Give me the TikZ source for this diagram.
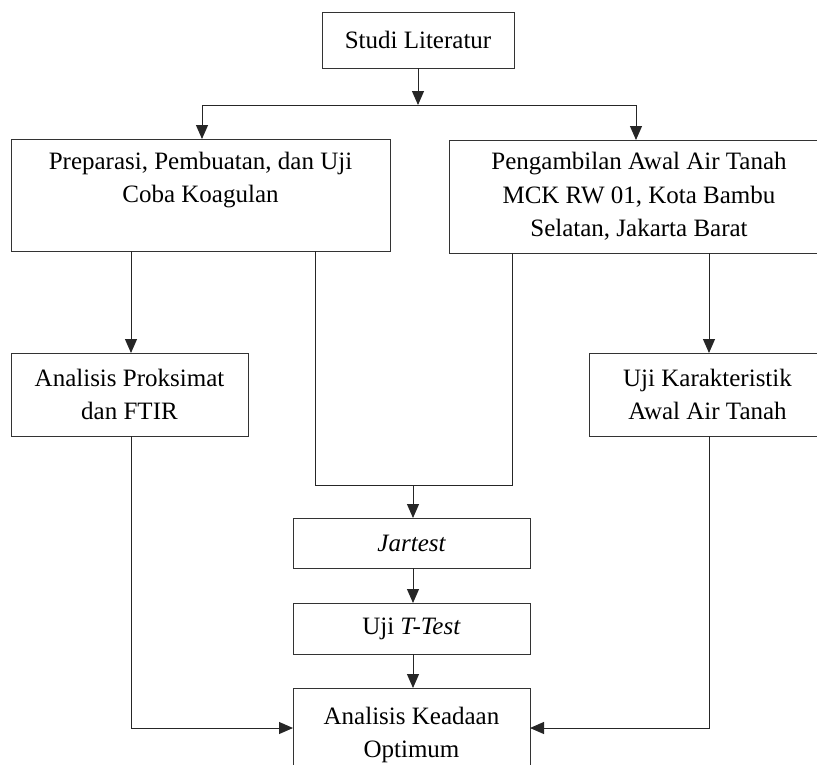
\documentclass[tikz,border=0pt]{standalone}
\usepackage{fontspec}
\setmainfont{Liberation Serif}
\usetikzlibrary{arrows.meta}
\begin{document}
\begin{tikzpicture}[x=1pt,y=-1pt,
  box/.style={draw=black!80,line width=1pt,inner sep=0pt,outer sep=0pt},
  txt/.style={align=center,font=\fontsize{25}{33.5}\selectfont,inner sep=0pt},
  line/.style={draw=black!85,line width=1pt},
  arr/.style={line,-{Triangle[width=12pt,length=14pt]}}]
\useasboundingbox (0,0) rectangle (817,764);
\clip (0,0) rectangle (817,764);
\node[box,minimum width=192pt,minimum height=56pt,txt] (studi) at (418,40) {Studi Literatur};
\node[box,minimum width=379pt,minimum height=112pt] (prep) at (200.5,195) {};
\node[txt] (preptxt) at (200.5,180) {Preparasi, Pembuatan, dan Uji\\Coba Koagulan};
\node[box,minimum width=380pt,minimum height=113pt,txt] (peng) at (639,196.5) {Pengambilan Awal Air Tanah\\MCK RW 01, Kota Bambu\\Selatan, Jakarta Barat};
\node[box,minimum width=237pt,minimum height=83pt,txt] (prok) at (129.5,394.5) {Analisis Proksimat\\dan FTIR};
\node[box,minimum width=237pt,minimum height=83pt,txt] (ujik) at (707.5,394.5) {Uji Karakteristik\\Awal Air Tanah};
\node[box,minimum width=237pt,minimum height=50pt,txt] (jar) at (411.5,543) {\itshape Jartest};
\node[box,minimum width=237pt,minimum height=51pt,txt] (ttest) at (411.5,628.5) {Uji \textit{T-Test}};
\node[box,minimum width=237pt,minimum height=94pt,txt] (anal) at (411.5,735) {Analisis Keadaan\\Optimum};
\coordinate (split) at (418,105);
\coordinate (j1) at (315,485);
\coordinate (j2) at (512,485);
\coordinate (jm) at (413,485);
\coordinate (lb) at (131,728);
\coordinate (rb) at (709,728);
\draw[arr] (studi) -- (split);
\draw[line] (split -| 202,0) -- (split -| 636,0);
\draw[arr] (split -| 202,0) -- (prep.north -| 202,0);
\draw[arr] (split -| 636,0) -- (peng.north -| 636,0);
\draw[arr] (lb |- prep.south) -- (lb |- prok.north);
\draw[arr] (rb |- peng.south) -- (rb |- ujik.north);
\draw[line] (j1 |- prep.south) -- (j1) -- (j2) -- (j2 |- peng.south);
\draw[arr] (jm) -- (jm |- jar.north);
\draw[arr] (jm |- jar.south) -- (jm |- ttest.north);
\draw[arr] (jm |- ttest.south) -- (jm |- anal.north);
\draw[arr] (lb |- prok.south) -- (lb) -- (lb -| anal.west);
\draw[arr] (rb |- ujik.south) -- (rb) -- (rb -| anal.east);
\end{tikzpicture}
\end{document}
